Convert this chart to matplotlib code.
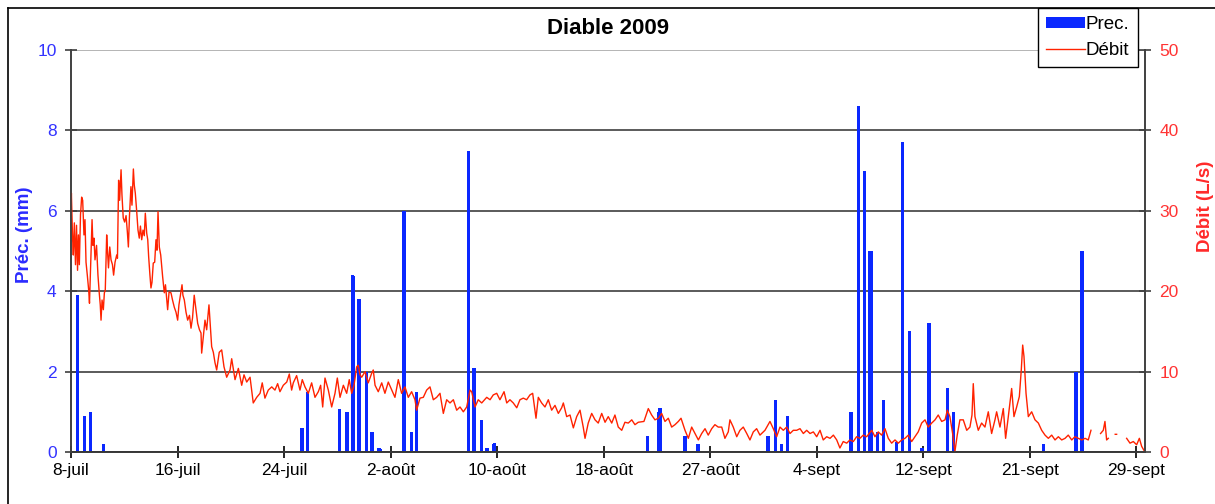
import matplotlib
matplotlib.use('Agg')
import matplotlib.pyplot as plt
import numpy as np
from matplotlib.lines import Line2D
from matplotlib.patches import Patch

plt.rcParams['font.family'] = ['Liberation Sans', 'DejaVu Sans']

# =============================================================================
# Données (jours depuis le 8 juillet 2009)
# =============================================================================
titre = 'Diable 2009'
etiquettes_dates = ['8-juil', '16-juil', '24-juil', '2-août', '10-août', '18-août',
                    '27-août', '4-sept', '12-sept', '21-sept', '29-sept']
pas_etiquette = 8.3  # jours entre deux étiquettes

# Précipitations (mm)
prec_jour = [0.49, 1.04, 1.50, 2.52, 18.00, 18.44, 20.94, 21.50, 21.92, 22.03,
             22.44, 23.01, 23.45, 24.00, 24.07, 25.94, 26.51, 26.93, 30.99, 31.40,
             31.97, 32.41, 32.90, 33.01, 44.90, 45.81, 45.89, 47.84, 48.85, 54.30,
             54.90, 55.34, 55.81, 60.77, 61.37, 61.81, 62.25, 62.33, 62.82, 63.30,
             64.30, 64.80, 65.35, 66.30, 66.85, 68.27, 68.74, 75.78, 78.26, 78.34,
             78.77]
prec_mm = [3.9, 0.9, 1.0, 0.2, 0.6, 1.5, 1.07, 1.0, 4.4, 4.38,
           3.8, 2.0, 0.5, 0.1, 0.08, 6.0, 0.5, 1.5, 7.5, 2.1,
           0.8, 0.1, 0.2, 0.22, 0.4, 1.0, 1.1, 0.4, 0.2, 0.4,
           1.3, 0.2, 0.9, 1.0, 8.6, 7.0, 5.0, 5.0, 0.5, 1.3,
           0.25, 7.7, 3.0, 0.1, 3.2, 1.6, 1.0, 0.2, 2.0, 2.0,
           5.0]

# Débit (L/s)
debit_jour = [
    0.00, 0.03, 0.12, 0.18, 0.26, 0.35, 0.43, 0.51, 0.58, 0.65, 0.74, 0.83, 0.91,
    1.01, 1.09, 1.17, 1.27, 1.38, 1.44, 1.52, 1.64, 1.71, 1.79, 1.87, 1.99, 2.10,
    2.20, 2.28, 2.34, 2.42, 2.52, 2.60, 2.67, 2.78, 2.84, 2.92, 3.02, 3.12, 3.23,
    3.32, 3.43, 3.56, 3.62, 3.71, 3.79, 3.90, 3.97, 4.07, 4.18, 4.29, 4.39, 4.47,
    4.56, 4.67, 4.75, 4.86, 4.93, 5.01, 5.12, 5.22, 5.32, 5.41, 5.51, 5.61, 5.71,
    5.79, 5.90, 5.98, 6.05, 6.15, 6.23, 6.31, 6.41, 6.52, 6.62, 6.70, 6.78, 6.88,
    6.99, 7.14, 7.27, 7.36, 7.46, 7.53, 7.64, 7.79, 7.91, 8.05, 8.18, 8.31, 8.41,
    8.65, 8.72, 8.83, 8.96, 9.09, 9.23, 9.35, 9.47, 9.60, 9.74, 9.87, 10.01,
    10.13, 10.18, 10.31, 10.44, 10.57, 10.75, 10.85, 10.96, 11.09, 11.22, 11.35,
    11.55, 11.74, 11.92, 12.13, 12.39, 12.52, 12.78, 13.04, 13.30, 13.48, 13.69,
    13.95, 14.20, 14.47, 14.73, 14.90, 15.11, 15.37, 15.64, 15.89, 16.10, 16.28,
    16.54, 16.81, 17.01, 17.19, 17.32, 17.58, 17.84, 18.02, 18.23, 18.49, 18.75,
    19.01, 19.27, 19.45, 19.61, 19.79, 20.05, 20.31, 20.57, 20.75, 20.96, 21.22,
    21.48, 21.68, 21.87, 22.05, 22.26, 22.38, 22.52, 22.65, 22.91, 23.16, 23.43,
    23.55, 23.69, 23.94, 24.21, 24.46, 24.72, 24.99, 25.24, 25.50,
    25.76, 26.02, 26.28, 26.54, 26.80, 26.93, 27.19, 27.45, 27.71, 27.97, 28.23,
    28.49, 28.75, 29.01, 29.27, 29.53, 29.79, 30.05, 30.31, 30.57, 30.83, 31.09,
    31.22, 31.48, 31.73, 32.00, 32.39, 32.65, 32.90, 33.17, 33.42, 33.74, 33.95,
    34.20, 34.46, 34.73, 34.98, 35.24, 35.50, 35.76, 35.97, 36.23, 36.41, 36.67,
    36.93, 37.19, 37.45, 37.71, 37.97, 38.23, 38.36, 38.62, 38.88, 39.14, 39.40,
    39.66, 39.91, 40.05, 40.30, 40.57, 40.83, 41.08, 41.35, 41.61, 41.86, 42.13,
    42.38, 42.64, 42.91, 43.16, 43.42, 43.69, 43.94, 44.20,
    44.64, 44.98, 45.24, 45.50, 45.76, 46.02, 46.28, 46.54, 46.80, 47.06, 47.32,
    47.53, 47.84, 48.10, 48.36, 48.62, 48.88, 49.14, 49.40, 49.65, 49.92, 50.17,
    50.43, 50.70, 50.95, 51.21, 51.34, 51.60, 51.87, 52.12, 52.38, 52.65, 52.90,
    53.16, 53.42, 53.68, 54.07, 54.46, 54.72, 54.98, 55.24, 55.50, 55.76, 56.02,
    56.28, 56.54, 56.80, 57.06, 57.32, 57.58, 57.84, 58.10, 58.36, 58.61, 58.88,
    59.14, 59.40, 59.66, 59.91, 60.17, 60.44, 60.69, 60.95, 61.21, 61.47, 61.73,
    61.99,
    62.39, 62.64, 62.90, 63.16, 63.42, 63.68, 63.94, 64.20, 64.46, 64.72, 64.98,
    65.24, 65.50, 65.76, 66.01, 66.28, 66.54, 66.79, 67.06, 67.32, 67.57, 67.84,
    68.10, 68.28, 68.48, 68.69, 68.87, 69.05, 69.26, 69.52, 69.79, 70.04, 70.20,
    70.30, 70.43, 70.69, 70.95, 71.21, 71.47, 71.73, 71.99, 72.12, 72.38, 72.64,
    72.82, 73.03, 73.29, 73.47, 73.68, 73.89, 74.04, 74.15, 74.25, 74.41, 74.59,
    74.85, 75.11, 75.37, 75.63, 75.89, 76.15, 76.41, 76.67, 76.93, 77.19, 77.45,
    77.70, 77.97, 78.22, 78.48, 78.75, 79.01, 79.26, 79.47, 79.70,
    80.22, 80.43, 80.56, 80.69, 80.82, 81.00, 81.36, 81.47, 81.80,
    82.25, 82.51, 82.77, 83.03, 83.24, 83.42, 83.60]
debit_ls = [
    30.1, 32.2, 26.7, 24.5, 28.5, 23.3, 28.2, 22.6, 27.0, 23.3, 29.5, 31.7, 31.3,
    27.0, 28.9, 23.6, 22.0, 20.1, 18.5, 22.6, 28.9, 25.7, 26.6, 23.9, 25.7, 22.0,
    19.8, 18.3, 16.4, 18.9, 17.7, 19.8, 20.1, 27.0, 25.1, 22.9, 25.5, 23.9, 23.3,
    22.0, 23.6, 24.5, 24.1, 33.8, 31.3, 35.1, 32.0, 29.1, 28.6, 29.4, 27.4, 25.5,
    29.5, 33.0, 30.7, 35.2, 33.2, 32.2, 29.9, 27.6, 26.6, 28.1, 26.4, 27.6, 26.9,
    29.7, 27.2, 26.4, 24.3, 22.0, 20.4, 21.1, 23.5, 23.6, 26.4, 25.1, 29.9, 25.5,
    24.5, 21.8, 19.8, 20.8, 18.9, 17.7, 19.9, 19.8, 18.9, 18.0, 17.4, 16.4, 18.3,
    20.8, 19.5, 18.9, 17.4, 16.4, 17.0, 15.4, 16.7, 19.5, 17.7, 16.0, 15.2,
    14.8, 12.3, 14.3, 16.4, 15.2, 18.3, 15.8, 13.1, 12.4, 11.1, 10.2,
    12.4, 12.7, 10.6, 9.3, 10.2, 11.6, 9.0, 10.4, 8.3, 9.6, 8.7,
    9.3, 6.1, 6.8, 7.3, 8.6, 6.7, 7.7, 8.1, 7.7, 8.5, 7.5,
    8.3, 8.7, 9.7, 7.7, 8.6, 9.5, 7.7, 9.0, 8.1, 7.3, 8.6,
    6.8, 7.5, 8.3, 5.6, 9.2, 7.7, 5.6, 7.3, 9.2, 6.8, 8.3,
    7.3, 9.0, 7.3, 8.3, 10.6, 10.8, 9.6, 9.3, 10.0, 8.6, 9.8,
    10.2, 8.3, 7.5, 8.6, 7.3, 8.7, 7.7, 6.8, 9.0,
    7.3, 8.1, 6.8, 7.5, 6.5, 5.2, 6.7, 6.8, 7.7, 8.1, 6.5,
    6.8, 7.3, 4.8, 6.5, 6.1, 6.5, 5.2, 5.6, 5.0, 5.6, 7.7,
    7.5, 5.6, 6.5, 6.1, 6.8, 6.5, 7.1, 7.3, 6.5, 7.5, 6.1,
    6.5, 6.1, 5.5, 6.5, 6.7, 6.5, 7.1, 7.3, 4.2, 6.8, 6.1,
    5.6, 6.5, 5.2, 5.8, 4.8, 5.5, 6.1, 4.4, 4.6, 3.0, 4.4,
    5.2, 3.1, 1.7, 3.6, 4.8, 4.0, 3.6, 4.8, 3.7, 4.4, 3.6,
    4.6, 3.1, 2.7, 3.7, 3.6, 4.0, 3.4, 3.7,
    3.8, 5.4, 4.6, 4.0, 4.2, 4.8, 3.8, 4.2, 3.1, 3.4, 3.8,
    4.2, 2.7, 1.7, 3.1, 2.3, 1.5, 2.3, 2.9, 2.1, 2.9, 3.4,
    3.1, 3.1, 1.7, 2.5, 4.0, 3.1, 1.9, 2.7, 3.1, 2.3, 1.5,
    2.5, 2.9, 2.1, 2.7, 3.8, 2.9, 1.9, 3.1, 2.7, 3.1, 2.3,
    2.7, 2.7, 2.9, 2.3, 2.7, 2.3, 2.5, 1.9, 2.7, 1.5, 1.9,
    1.7, 2.1, 1.5, 0.5, 1.3, 1.1, 1.5, 1.3, 1.9, 1.7, 2.1,
    1.9,
    2.7, 1.9, 2.5, 2.1, 2.9, 1.7, 1.1, 1.5, 1.1, 1.5, 1.7,
    2.1, 1.3, 1.9, 2.5, 3.6, 4.0, 3.1, 3.6, 4.0, 4.6, 3.8,
    4.0, 5.2, 4.4, 2.3, 0.05, 2.1, 4.0, 4.0, 2.7, 3.1, 4.6,
    8.5, 4.4, 2.7, 3.6, 3.1, 5.0, 2.3, 4.0, 5.0, 3.1, 5.4,
    1.7, 4.4, 7.9, 4.4, 5.6, 6.9, 10.2, 13.3, 11.9, 7.3, 4.4,
    5.0, 4.0, 3.6, 2.7, 2.1, 1.7, 2.1, 1.5, 1.9, 1.5, 1.7,
    2.1, 1.5, 1.9, 1.7, 1.5, 1.7, 1.5, 2.7, np.nan,
    2.3, 2.7, 3.8, 1.5, 1.7, np.nan, 2.2, 2.2, np.nan,
    1.7, 1.1, 1.3, 0.9, 1.7, 0.7, 0.2]

# =============================================================================
# Figure
# =============================================================================
bleu = '#0a28ff'
rouge = '#ff2200'
bleu_txt = '#3333ff'
rouge_txt = '#ff3333'

fig = plt.figure(figsize=(12.15, 5.04), dpi=100)
ax = fig.add_axes([71/1215, 1-452/504, (1145-71)/1215, (452-50)/504])
ax2 = ax.twinx()

ax.bar(prec_jour, prec_mm, width=0.26, color=bleu, linewidth=0, zorder=2)
ax2.plot(debit_jour, debit_ls, color=rouge, lw=1.0)

ax.set_xlim(0, 83.68)
ax.set_ylim(0, 10)
ax2.set_ylim(0, 50)
ax.set_yticks(np.arange(0, 11, 2))
ax2.set_yticks(np.arange(0, 51, 10))
ax.set_xticks(np.arange(len(etiquettes_dates)) * pas_etiquette)
ax.set_xticklabels(etiquettes_dates)

ax.yaxis.grid(True, color='#5a5a5a', lw=1.4)
ax.set_axisbelow(True)
ax.get_ygridlines()[-1].set_color('#b4b4b4')

for a in (ax, ax2):
    a.spines['top'].set_visible(False)
    for s in ('left', 'right', 'bottom'):
        a.spines[s].set_color('#404040')
        a.spines[s].set_linewidth(1.2)
ax.spines['bottom'].set_color('black')

ax.tick_params(axis='x', direction='inout', length=8, width=1.2, pad=4,
               labelsize=12.5, colors='black')
ax.tick_params(axis='y', direction='inout', length=8.6, width=1.2, pad=6,
               labelsize=12.5, color='#404040', labelcolor=bleu_txt)
ax2.tick_params(axis='y', direction='inout', length=8.6, width=1.2, pad=6,
                labelsize=12.5, color='#404040', labelcolor=rouge_txt)

ax.set_ylabel('Préc. (mm)', color='#2b2bff', fontsize=13.5, fontweight='bold')
ax.yaxis.set_label_coords(-0.0354, 0.54)
ax2.set_ylabel('Débit (L/s)', color='#ff2a2a', fontsize=13.5, fontweight='bold')
ax2.yaxis.set_label_coords(1.048, 0.61)

fig.text(608/1215, 1-28/504, titre, ha='center', va='center',
         fontsize=16, fontweight='bold')

poignees = [Patch(facecolor=bleu, edgecolor='none'),
            Line2D([], [], color=rouge, lw=1)]
leg = fig.legend(poignees, ['Prec.', 'Débit'], loc='upper left',
                 bbox_to_anchor=(1038/1215, 1-8/504), borderaxespad=0,
                 fontsize=13.5, fancybox=False, framealpha=1, edgecolor='black',
                 handlelength=2.05, handleheight=0.55, labelspacing=0.45,
                 borderpad=0.45, handletextpad=0.05)
leg.get_frame().set_linewidth(1.0)

# bordure de la zone graphique (haut et gauche)
fig.add_artist(Line2D([8/1215, 1], [1-8/504, 1-8/504], color='black', lw=1.2,
                      transform=fig.transFigure))
fig.add_artist(Line2D([8/1215, 8/1215], [0, 1-8/504], color='black', lw=1.2,
                      transform=fig.transFigure))

fig.savefig('out.png', dpi=100)
